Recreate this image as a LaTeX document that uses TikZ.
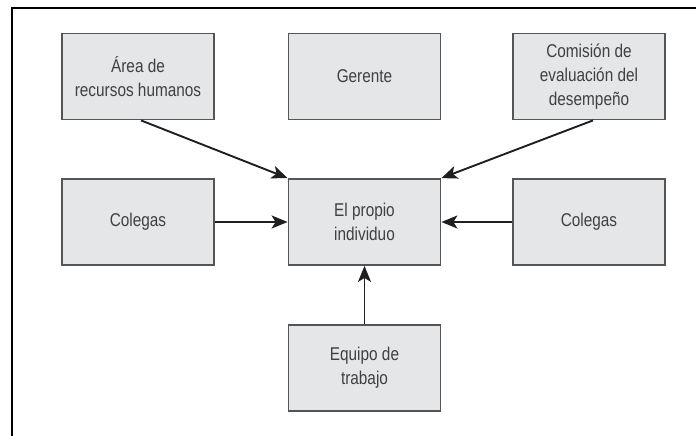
\documentclass[tikz,border=0pt]{standalone}
\usepackage{fontspec}
\setmainfont{Liberation Sans}[FakeStretch=0.83]
\usetikzlibrary{arrows.meta,calc}
\definecolor{boxfill}{HTML}{E5E6E7}
\definecolor{boxline}{HTML}{555555}
\definecolor{txt}{HTML}{404040}
\begin{document}
\begin{tikzpicture}[x=1pt,y=-1pt,
  entity/.style={draw=boxline,line width=1.8pt,fill=boxfill,minimum width=152pt,minimum height=86pt,
    align=center,text=txt,font=\fontsize{18.5}{24}\selectfont,inner sep=0pt},
  conn/.style={line width=1.9pt,draw=black!88,-{Stealth[length=16pt,width=13pt,inset=4pt]}}]
\useasboundingbox (0,0) rectangle (696,436);
\draw[line width=2.2pt] (12,436) -- (12,8) -- (696,8);
\node[entity] (hr) at (138,76.5) {Área de\\recursos humanos};
\node[entity] (ger) at (364.5,76.5) {Gerente};
\node[entity] (com) at (589,76.5) {Comisión de\\evaluación del\\desempeño};
\node[entity] (colL) at (138,222) {Colegas};
\node[entity] (self) at (364.5,222) {El propio\\individuo};
\node[entity] (colR) at (589,222) {Colegas};
\node[entity] (eq) at (364.5,368) {Equipo de\\trabajo};
\draw[conn] ($(hr.south)+(3,0)$) -- (self.north west);
\draw[conn] ($(com.south)+(4,0)$) -- (self.north east);
\draw[conn] (colL) -- (self);
\draw[conn] (colR) -- (self);
\draw[conn] (eq) -- (self);
\end{tikzpicture}
\end{document}
